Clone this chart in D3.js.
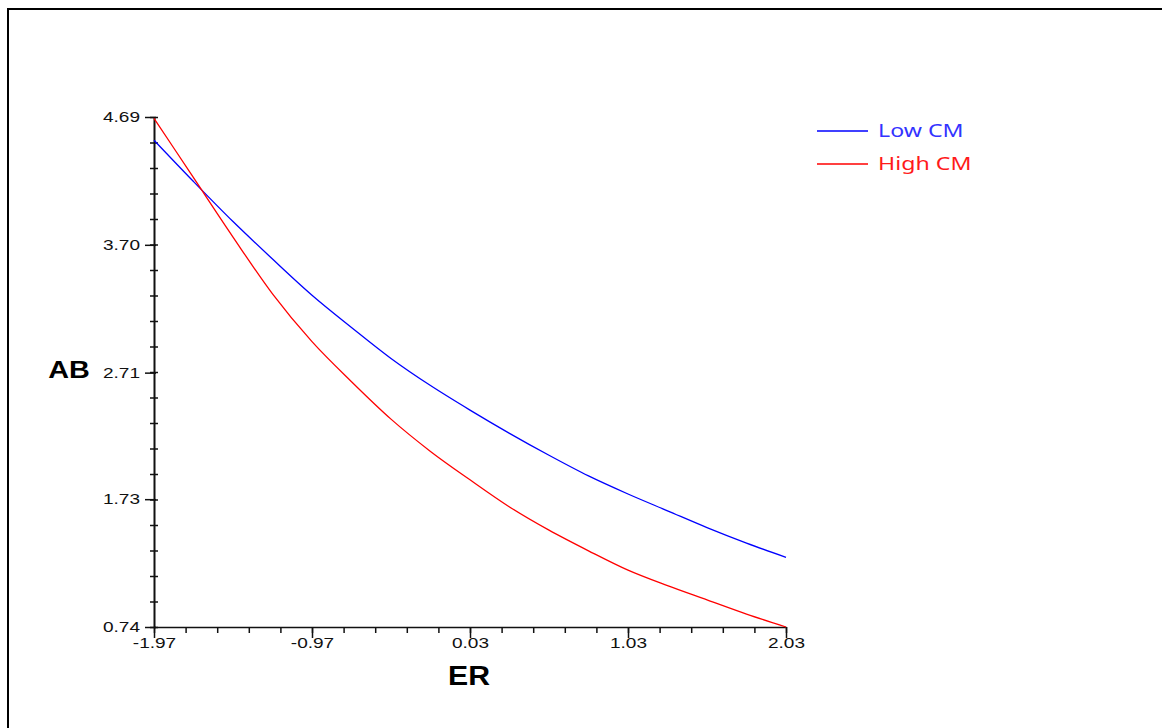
<!DOCTYPE html>
<html>
<head>
<meta charset="utf-8">
<script src="https://cdn.jsdelivr.net/npm/d3@7"></script>
<style>
  body { margin: 0; background: #fff; }
  svg { display: block; }
</style>
</head>
<body>
<script>
var w = 1162;
var h = 728;

// ER values the curves are sampled at
var er = [-1.97, -1.72, -1.47, -1.22, -0.97, -0.72, -0.47, -0.22, 0.03,
          0.28, 0.53, 0.78, 1.03, 1.28, 1.53, 1.78, 2.03];
var lowCM = [4.51, 4.19, 3.88, 3.59, 3.31, 3.06, 2.82, 2.61, 2.42,
             2.24, 2.07, 1.91, 1.77, 1.64, 1.51, 1.39, 1.28];
var highCM = [4.68, 4.22, 3.76, 3.32, 2.95, 2.64, 2.35, 2.10, 1.88,
              1.67, 1.49, 1.33, 1.18, 1.06, 0.95, 0.84, 0.74];

var xTicks = [-1.97, -0.97, 0.03, 1.03, 2.03];
var yTicks = [0.74, 1.73, 2.71, 3.70, 4.69];
var seriesNames = ['Low CM', 'High CM'];
var seriesColors = ['#0000ff', '#ff0000'];

var svg = d3.select('body')
           .append('svg')
           .attr('width', w)
           .attr('height', h);

// outer frame (runs off the right and bottom edges)
svg.append('rect')
   .attr('x', 8).attr('y', 9)
   .attr('width', w + 20).attr('height', h + 20)
   .attr('fill', 'none')
   .attr('stroke', '#000')
   .attr('stroke-width', 2);

var x = d3.scaleLinear().domain([-1.97, 2.03]).range([154, 786]);
var y = d3.scaleLinear().domain([0.74, 4.69]).range([627, 117]);

// minor ticks: 4 between each pair of labelled ticks
var xMinor = d3.range(0, 21).map(function(i) { return -1.97 + i * 0.2; });
var yMinor = d3.range(0, 21).map(function(i) { return 0.74 + i * 0.1975; });

var fmt = function(d) { return d.toFixed(2); }; // plain hyphen minus

// y axis
var yMin = svg.append('g')
   .attr('transform', 'translate(154,0)')
   .call(d3.axisLeft(y).tickValues(yMinor).tickFormat('').tickSizeOuter(0));
yMin.select('.domain').remove();
yMin.selectAll('line').attr('x1', 4).attr('x2', -4)
    .attr('stroke', '#111').attr('stroke-width', 1.5);

var yAx = svg.append('g')
   .attr('transform', 'translate(154,0)')
   .call(d3.axisLeft(y).tickValues(yTicks).tickFormat(fmt)
         .tickSizeInner(9).tickSizeOuter(0).tickPadding(5));
yAx.select('.domain').attr('stroke', '#111').attr('stroke-width', 2);
yAx.selectAll('line').attr('x1', 2).attr('stroke', '#111').attr('stroke-width', 1.5);
yAx.selectAll('text')
   .attr('x', 0)
   .attr('transform', 'translate(-14,0) scale(1.27,1)')
   .attr('font-family', 'Liberation Sans, Arial, sans-serif')
   .attr('font-size', 15)
   .attr('fill', '#111');

// x axis
var xMin = svg.append('g')
   .attr('transform', 'translate(0,627)')
   .call(d3.axisBottom(x).tickValues(xMinor).tickFormat('').tickSizeInner(6).tickSizeOuter(0));
xMin.select('.domain').remove();
xMin.selectAll('line').attr('stroke', '#111').attr('stroke-width', 1.5);

var xAx = svg.append('g')
   .attr('transform', 'translate(0,627)')
   .call(d3.axisBottom(x).tickValues(xTicks).tickFormat(fmt)
         .tickSizeInner(11).tickSizeOuter(0).tickPadding(-1));
xAx.select('.domain').attr('stroke', '#111').attr('stroke-width', 1.5);
xAx.selectAll('line').attr('stroke', '#111').attr('stroke-width', 1.5);
xAx.selectAll('text')
   .attr('transform', 'scale(1.27,1)')
   .attr('font-family', 'Liberation Sans, Arial, sans-serif')
   .attr('font-size', 15)
   .attr('fill', '#111');

// axis titles
svg.append('text')
   .attr('transform', 'translate(69,378) scale(1.2,1)')
   .attr('text-anchor', 'middle')
   .attr('font-family', 'Liberation Sans, Arial, sans-serif')
   .attr('font-weight', 'bold')
   .attr('font-size', 24)
   .text('AB');

svg.append('text')
   .attr('transform', 'translate(469,685) scale(1.12,1)')
   .attr('text-anchor', 'middle')
   .attr('font-family', 'Liberation Sans, Arial, sans-serif')
   .attr('font-weight', 'bold')
   .attr('font-size', 27)
   .text('ER');

// curves
var line = d3.line()
   .x(function(d) { return x(d[0]); })
   .y(function(d) { return y(d[1]); })
   .curve(d3.curveMonotoneX);

[lowCM, highCM].forEach(function(vals, i) {
  svg.append('path')
     .datum(er.map(function(e, j) { return [e, vals[j]]; }))
     .attr('d', line)
     .attr('fill', 'none')
     .attr('stroke', seriesColors[i])
     .attr('stroke-width', 1.3);
});

// legend
var legend = svg.append('g');
seriesNames.forEach(function(name, i) {
  var ly = 131 + i * 33;
  legend.append('line')
     .attr('x1', 817).attr('x2', 868)
     .attr('y1', ly).attr('y2', ly)
     .attr('stroke', seriesColors[i])
     .attr('stroke-width', 1.5);
  legend.append('text')
     .attr('transform', 'translate(878,' + (ly + 6) + ') scale(1.22,1)')
     .attr('font-family', 'Noto Sans, Open Sans, sans-serif')
     .attr('font-size', 19)
     .attr('fill', i == 0 ? '#3333ff' : '#ff1a1a')
     .text(name);
});
</script>
</body>
</html>
